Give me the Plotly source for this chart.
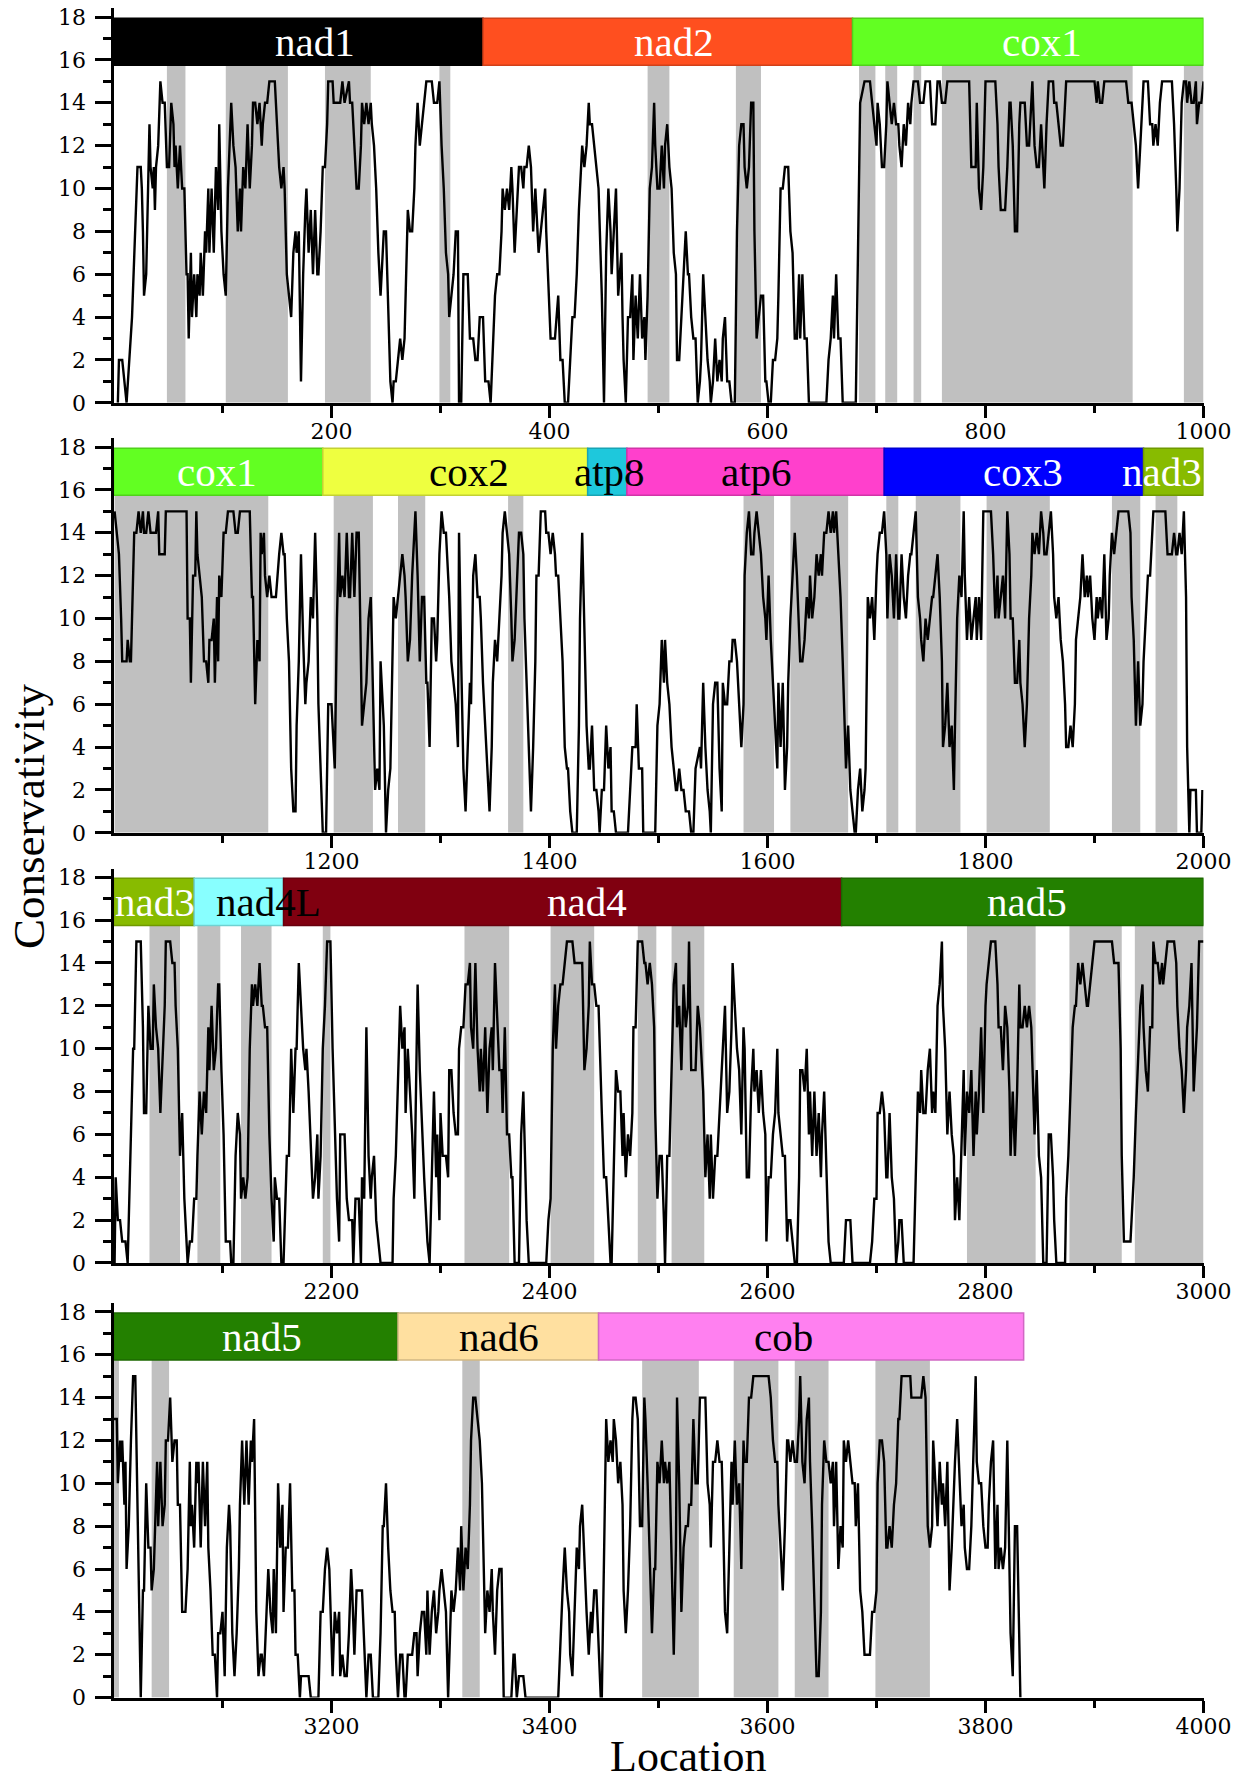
import plotly.graph_objects as go

FONT = "Liberation Serif"
TICK_FONT = "DejaVu Serif"

# ---------------- data ----------------
panel_starts = [0, 1000, 2000, 3000]
y_tick_values = [0, 2, 4, 6, 8, 10, 12, 14, 16, 18]

gene_names = ["nad1", "nad2", "cox1", "cox2", "atp8", "atp6", "cox3", "nad3",
              "nad4L", "nad4", "nad5", "nad6", "cob"]
gene_starts = [0, 339, 678, 1192, 1435, 1471, 1707, 1945, 2074, 2156, 2668, 3261, 3445]
gene_ends = [339, 678, 1192, 1435, 1471, 1707, 1945, 2074, 2156, 2668, 3261, 3445, 3835]
gene_colors = ["#000000", "#FF4F1F", "#62FF22", "#EEFF40", "#1EC8DC", "#FF40CC",
               "#0000FF", "#88BB00", "#88FFFF", "#800010", "#238000", "#FFE0A0", "#FF80F0"]
gene_text_colors = ["white", "white", "white", "black", "black", "black",
                    "white", "white", "black", "white", "white", "black", "black"]

label_genes = ["nad1", "nad2", "cox1", "cox1", "cox2", "atp8", "atp6", "cox3", "nad3",
               "nad3", "nad4L", "nad4", "nad5", "nad5", "nad6", "cob"]
label_x = [185, 514, 852, 1095, 1326, 1455, 1590, 1834, 1962,
           2038, 2142, 2434, 2838, 3136, 3354, 3615]

shaded_starts = [49, 103, 194, 299, 490, 571, 684, 708, 734, 760, 982,
                 1001, 1202, 1261, 1362, 1578, 1621, 1709, 1736, 1801, 1916, 1956,
                 2033, 2077, 2117, 2192, 2322, 2401, 2481, 2512, 2783, 2877, 2937,
                 3000, 3035, 3320, 3485, 3569, 3625, 3699]
shaded_ends = [66, 160, 236, 309, 510, 594, 699, 719, 741, 935, 1000,
               1142, 1238, 1286, 1376, 1606, 1674, 1720, 1777, 1859, 1942, 1976,
               2061, 2098, 2145, 2199, 2363, 2441, 2498, 2542, 2846, 2925, 3000,
               3005, 3051, 3336, 3537, 3610, 3656, 3749]

panel1_points = [
    (4,0),(5,2),(8,2),(12,0),(17,4),(21,10),(22,11),(25,11),(26,10),(27,8),(28,5),(30,6),(33,13),(34,11),
    (36,10),(37,11),(38,9),(39,11),(41,12),(43,15),(45,14),(47,14),(48,12),(49,11),(51,11),(53,14),(55,13),
    (56,11),(57,12),(59,10),(61,12),(63,10),(65,10),(67,6),(68,6),(69,3),(71,7),(72,4),(74,6),(76,4),(77,6),
    (79,5),(80,7),(82,5),(84,8),(85,7),(87,10),(88,7),(90,10),(92,7),(94,11),(96,9),(97,13),(99,8),(101,6),
    (103,5),(105,10),(107,13),(108,14),(110,12),(112,11),(114,8),(116,10),(117,8),(119,11),(121,10),(123,13),
    (125,10),(127,12),(128,14),(130,14),(132,13),(134,14),(136,12),(137,13),(139,14),(141,14),(143,15),(148,15),
    (150,13),(152,11),(154,10),(156,11),(157,10),(159,6),(161,5),(163,4),(165,7),(167,8),(168,7),(170,8),(172,1),
    (174,6),(176,9),(177,10),(179,7),(181,9),(183,6),(185,9),(187,6),(188,6),(190,8),(192,11),(194,11),(196,13),
    (197,15),(201,15),(202,14),(208,14),(210,15),(212,14),(216,15),(217,14),(219,14),(221,12),(223,10),(225,10),
    (227,12),(228,14),(230,13),(232,14),(234,13),(236,14),(237,13),(239,12),(241,10),(243,7),(245,5),(247,7),
    (248,8),(250,8),(252,4),(254,1),(256,0),(257,1),(259,1),(261,2),(263,3),(265,2),(267,3),(268,5),(270,9),
    (272,8),(274,8),(276,10),(277,12),(279,14),(281,12),(283,13),(285,14),(287,15),(292,15),(294,14),(297,14),
    (299,15),(301,12),(303,10),(305,7),(307,6),(308,4),(310,5),(312,6),(314,8),(316,8),(317,0),(319,0),(321,6),
    (325,6),(327,3),(330,3),(332,2),(334,2),(336,4),(339,4),(341,1),(344,1),(346,0),(348,3),(350,5),(352,6),
    (354,6),(356,8),(357,10),(359,9),(361,10),(363,9),(365,11),(366,10),(368,7),(370,9),(372,11),(374,11),
    (376,10),(377,11),(379,11),(381,12),(383,11),(385,8),(387,10),(388,9),(390,7),(392,8),(394,9),(396,10),
    (397,8),(399,5),(401,3),(405,3),(408,5),(410,2),(412,2),(414,0),(417,0),(419,2),(421,4),(423,4),(425,6),
    (427,9),(428,10),(430,12),(432,11),(434,12),(436,14),(437,13),(439,13),(441,12),(443,11),(445,10),(448,5),
    (450,0),(452,7),(454,10),(456,8),(457,6),(459,8),(461,10),(463,5),(466,7),
    (467,4),(468,2),(470,0),(472,4),(474,4),(476,6),(477,2),(479,5),(481,3),(483,6),(485,3),(487,4),(488,2),
    (490,5),(492,10),(494,11),(496,14),(497,12),(499,10),(501,10),(503,12),(505,10),(506,12),(508,13),(510,11),
    (512,10),(514,7),(516,6),(517,2),(519,2),(521,4),(523,6),(525,8),(527,6),(528,6),(530,4),(532,3),(534,3),
    (536,0),(538,1),(539,2),(541,6),(543,4),(545,2),(547,1),(548,0),(550,1),(552,3),(554,1),(556,2),(558,1),
    (559,3),(561,4),(563,1),(565,1),(567,0),(570,0),(572,8),(574,12),(576,13),(578,13),(579,11),(581,10),
    (583,11),(585,14),(587,14),(588,8),(590,3),(592,4),(594,5),(596,5),(598,1),(599,1),(601,0),(603,0),(605,2),
    (607,2),(609,3),(610,5),(612,10),(614,10),(616,11),(619,11),(621,8),(623,7),(625,3),(627,3),(629,6),(630,3),
    (632,6),(634,3),(636,3),(638,0),(654,0),(656,2),(658,3),(660,5),(661,3),(663,6),(665,3),(667,3),(669,0),
    (681,0),(685,14),(689,15),(694,15),(696,14),(698,13),(700,12),(701,14),(703,13),(705,11),(707,11),(709,13),
    (710,15),(712,14),(714,13),(716,14),(718,13),(720,13),(721,12),(723,11),(725,13),(727,12),(729,14),(731,13),
    (732,14),(734,15),(738,15),(740,14),(743,14),(745,15),(749,15),(751,13),(754,13),(756,15),(758,15),(760,14),
    (763,14),(765,15),(785,15),(787,11),(791,11),(792,14),(794,10),(796,9),(798,11),(800,15),(809,15),(811,13),
    (812,11),(814,9),(818,9),(820,11),(822,14),(823,14),(825,12),(827,8),(829,8),(831,13),(832,14),(836,14),
    (838,12),(840,12),(842,14),(843,15),(845,12),(847,11),(849,11),(851,13),(853,11),(854,10),(856,13),(858,15),
    (862,15),(863,14),(865,14),(867,13),(869,12),(871,12),(873,14),(874,15),(900,15),(902,14),(903,15),(905,14),
    (907,14),(909,15),(929,15),(931,14),(934,14),(936,13),(938,12),(940,10),(942,12),(944,14),(945,15),(949,15),
    (951,13),(953,13),(954,12),(956,13),(958,12),(960,14),(962,15),(971,15),(973,13),(975,10),(976,8),(978,10),
    (980,14),(982,15),(984,15),(985,14),(987,15),(989,14),(991,14),(993,15),(994,13),(996,14),(998,14),(1000,15),
]

panel2_points = [
    (1001,15),(1003,14),(1005,13),(1007,10),(1008,8),(1012,8),(1013,9),(1015,8),(1016,8),(1019,14),(1021,14),
    (1023,15),(1025,14),(1027,15),(1028,14),(1030,14),(1032,15),(1034,14),(1036,14),(1039,14),(1041,15),(1042,13),
    (1047,13),(1048,15),(1067,15),(1068,10),(1070,10),(1071,7),(1073,12),(1075,12),(1076,15),(1077,13),(1079,12),
    (1081,11),(1083,8),(1085,8),(1087,7),(1088,9),(1090,9),(1092,10),(1093,7),(1095,11),(1096,8),(1097,12),
    (1099,11),(1101,14),(1103,14),(1105,15),(1110,15),(1112,14),(1114,14),(1116,15),(1125,15),(1127,11),(1128,11),
    (1130,6),(1132,9),(1134,8),(1135,14),(1136,13),(1138,14),(1139,12),(1141,11),(1143,12),(1145,11),(1147,11),
    (1149,11),(1152,13),(1154,14),(1156,13),(1157,13),(1159,10),(1161,8),(1163,3),(1165,1),(1167,1),(1168,5),
    (1170,8),(1172,13),(1174,9),(1176,6),(1177,7),(1179,8),(1181,11),(1183,10),(1185,14),(1187,10),(1188,6),
    (1190,3),(1192,0),(1195,0),(1197,6),(1200,6),(1203,3),(1205,10),(1207,14),(1208,11),(1210,12),(1212,11),
    (1214,14),(1216,11),(1217,11),(1219,14),(1221,11),(1223,14),(1225,14),(1227,8),(1228,5),(1230,6),(1232,7),
    (1234,10),(1236,11),(1237,9),(1239,5),(1240,2),(1242,3),(1244,2),(1245,8),(1247,6),(1248,5),(1250,0),
    (1252,2),(1254,3),(1256,8),(1257,11),(1259,10),(1261,11),(1263,12),(1265,13),(1267,12),(1268,11),(1270,8),
    (1272,9),(1274,12),(1276,14),(1277,15),(1279,12),(1281,8),(1283,11),(1285,11),(1287,7),(1288,7),(1290,4),
    (1292,10),(1294,10),(1296,8),(1297,9),(1299,13),(1301,15),(1303,14),(1305,14),(1307,12),(1308,11),(1310,8),
    (1312,7),(1314,6),(1316,4),(1317,14),(1319,8),(1321,3),(1323,1),(1325,4),(1327,7),(1328,6),(1330,12),
    (1332,13),(1334,11),(1336,11),(1337,10),(1339,7),(1341,5),(1343,3),(1345,1),(1347,4),(1348,7),(1350,9),
    (1352,8),(1354,10),(1356,12),(1357,14),(1359,15),(1361,14),(1363,13),(1365,10),(1366,8),(1368,9),(1370,12),
    (1372,14),(1374,14),(1376,13),(1377,10),(1379,7),(1381,3),(1383,1),(1385,4),(1387,8),(1388,12),(1390,12),
    (1392,15),(1396,15),(1397,14),(1399,14),(1401,13),(1403,14),(1405,13),(1406,12),(1408,12),(1410,10),(1412,8),
    (1414,4),(1416,3),(1417,3),(1419,1),(1421,0),(1425,0),(1427,5),(1428,10),(1430,14),(1432,10),(1434,5),
    (1436,3),(1437,3),(1439,5),(1441,2),(1443,2),(1445,1),(1446,0),(1448,2),(1450,2),(1452,5),(1454,3),(1456,4),
    (1457,1),(1459,1),(1461,0),(1472,0),(1476,4),(1479,4),(1480,6),(1482,3),(1485,3),(1486,0),(1497,0),(1499,5),
    (1501,6),(1503,9),(1505,7),(1506,9),(1508,7),(1510,6),(1512,4),(1516,2),(1517,2),(1519,3),(1521,2),(1523,2),
    (1525,1),(1528,1),(1530,0),(1532,0),(1534,3),(1538,4),(1539,3),(1541,7),(1543,4),(1545,2),(1547,1),(1548,0),
    (1550,6),(1552,7),(1554,7),(1556,3),(1558,1),(1559,7),(1561,6),(1563,6),(1565,8),(1567,8),(1568,9),(1570,9),
    (1572,8),(1574,6),(1576,4),(1578,6),(1579,12),(1581,14),(1583,15),(1585,13),(1587,13),(1588,14),(1590,15),
    (1592,14),(1594,13),(1596,11),(1598,10),(1599,9),(1601,12),(1603,9),(1605,7),(1607,5),(1609,3),(1610,7),
    (1612,4),(1614,7),(1616,2),(1618,4),(1619,7),(1621,10),(1623,12),(1625,14),(1627,12),(1629,9),(1630,8),
    (1632,8),(1634,9),(1636,11),(1638,10),(1639,12),(1641,10),(1643,11),(1645,13),(1647,12),(1649,13),(1650,12),
    (1652,14),(1654,14),(1656,15),(1658,14),(1660,15),(1661,14),(1663,15),(1665,13),(1667,11),(1669,8),(1670,6),
    (1672,3),(1674,5),(1676,2),(1678,1),(1680,0),(1681,0),(1683,2),(1685,3),(1687,1),(1689,2),(1690,3),(1692,11),
    (1694,10),(1696,11),(1698,9),(1700,12),(1701,13),(1703,14),(1705,14),(1707,15),(1709,13),(1710,10),(1712,13),
    (1714,12),(1716,10),(1718,13),(1720,10),(1721,10),(1723,13),(1725,11),(1727,10),(1729,12),(1731,13),(1732,13),
    (1734,14),(1736,15),(1738,11),(1740,10),(1741,9),(1743,8),(1745,10),(1747,9),(1749,10),(1751,11),(1752,11),
    (1754,12),(1756,13),(1758,11),(1760,8),(1761,4),(1763,5),(1765,7),(1767,4),(1769,5),(1771,2),(1772,5),
    (1774,10),(1776,12),(1778,11),(1780,15),(1781,12),(1783,9),(1785,11),(1787,9),(1789,10),(1791,11),(1792,9),
    (1794,11),(1796,9),(1798,15),(1805,15),(1807,13),(1809,10),(1811,12),(1812,10),(1814,11),(1816,12),(1818,10),
    (1820,15),(1822,13),(1823,10),(1825,10),(1827,7),(1829,7),(1831,9),(1832,7),(1834,6),(1836,4),(1838,6),
    (1840,10),(1842,12),(1843,14),(1845,13),(1847,14),(1849,13),(1851,15),(1853,14),(1854,13),(1856,13),(1858,14),
    (1860,15),(1862,13),(1863,11),(1865,10),(1867,11),(1869,9),(1871,8),(1873,6),(1874,4),(1876,4),(1878,5),
    (1880,4),(1882,6),(1883,9),(1885,10),(1887,11),(1889,13),(1891,11),(1893,12),(1894,11),(1896,12),(1898,10),
    (1900,9),(1902,11),(1903,10),(1905,11),(1907,10),(1909,13),(1911,9),(1913,10),(1914,12),(1916,14),(1918,13),
    (1920,14),(1922,15),(1931,15),(1933,14),(1934,11),(1936,9),(1938,5),(1940,8),(1942,5),(1944,6),(1945,8),
    (1947,10),(1949,12),(1951,12),(1953,14),(1954,15),(1965,15),(1967,13),(1971,13),(1973,14),(1975,13),(1976,13),
    (1978,14),(1980,13),(1982,15),(1984,11),(1985,4),(1987,0),(1988,2),(1993,2),(1994,0),(1998,0),(1999,2),
]

panel3_points = [
    (2001,0),(2002,4),(2004,2),(2006,2),(2008,1),(2011,1),(2013,0),(2016,6),(2018,10),(2019,10),(2021,15),
    (2025,15),(2027,11),(2028,7),(2030,7),(2032,12),(2034,10),(2036,10),(2037,13),(2039,11),(2041,10),(2043,7),
    (2045,10),(2047,12),(2048,15),(2052,15),(2054,14),(2056,14),(2057,12),(2059,10),(2061,5),(2063,7),(2065,3),
    (2067,1),(2068,0),(2070,1),(2072,1),(2074,3),(2076,3),(2077,5),(2079,8),(2081,6),(2083,8),(2085,7),(2087,11),
    (2088,9),(2090,12),(2092,9),(2094,10),(2096,13),(2097,13),(2099,9),(2101,6),(2103,1),(2107,1),(2108,0),
    (2110,0),(2112,5),(2114,7),(2116,6),(2117,3),(2119,4),(2121,3),(2123,4),(2125,10),(2127,13),(2128,12),
    (2130,13),(2132,12),(2134,14),(2136,12),(2137,12),(2139,11),(2141,11),(2143,6),(2145,3),(2147,1),(2148,4),
    (2150,3),(2152,3),(2154,0),(2156,0),(2159,5),(2161,5),(2163,10),(2165,7),(2167,10),(2168,10),(2170,14),
    (2172,12),(2174,10),(2176,9),(2177,10),(2179,8),(2181,5),(2183,3),(2185,4),(2187,6),(2188,3),(2190,5),
    (2192,10),(2194,12),(2196,15),(2199,15),(2201,10),(2203,6),(2205,3),(2207,1),(2208,6),(2212,6),(2214,3),
    (2216,2),(2219,2),(2220,0),(2222,3),(2225,3),(2227,0),(2228,4),(2230,3),(2232,11),(2234,5),(2236,3),(2237,4),
    (2239,5),(2241,2),(2243,1),(2245,0),(2256,0),(2257,3),(2259,5),(2261,9),(2263,12),(2265,10),(2267,11),
    (2268,7),(2270,10),(2272,8),(2274,6),(2276,3),(2277,7),(2279,13),(2281,9),(2283,6),(2285,4),(2287,2),
    (2288,1),(2290,0),(2292,4),(2294,8),(2296,4),(2297,6),(2299,2),(2300,7),(2302,5),(2305,5),(2307,4),(2308,9),
    (2310,9),(2312,7),(2314,6),(2316,6),(2317,10),(2319,11),(2321,11),(2323,13),(2325,13),(2327,14),(2328,11),
    (2330,10),(2332,14),(2334,10),(2336,8),(2337,10),(2339,8),(2341,11),(2343,7),(2345,10),(2347,11),(2348,9),
    (2350,14),(2352,11),(2354,9),(2356,9),(2357,7),(2359,11),(2361,6),(2363,6),(2365,4),(2366,4),(2368,0),
    (2372,0),(2374,6),(2376,8),(2377,6),(2379,2),(2381,0),(2397,0),(2399,2),(2401,3),(2403,10),(2405,13),
    (2406,10),(2408,12),(2410,13),(2412,13),(2414,14),(2416,15),(2421,15),(2423,14),(2430,14),(2432,9),(2434,10),
    (2436,12),(2437,15),(2439,13),(2441,13),(2443,12),(2445,12),(2446,10),(2448,7),(2450,4),(2452,4),(2454,2),
    (2456,0),(2457,0),(2459,4),(2461,9),(2463,8),(2465,8),(2467,5),(2468,7),(2470,4),(2472,6),(2474,5),(2476,7),
    (2477,11),(2479,11),(2481,15),(2485,15),(2487,14),(2488,14),(2490,13),(2492,14),(2494,13),(2496,11),(2497,7),
    (2499,3),(2501,5),(2503,5),(2505,2),(2506,0),(2508,5),(2510,5),(2512,9),(2514,13),(2516,14),(2517,11),
    (2519,12),(2521,9),(2523,13),(2525,11),(2527,12),(2528,15),(2530,9),(2532,9),(2534,9),(2536,12),(2538,11),
    (2539,10),(2541,8),(2543,4),(2545,6),(2547,3),(2548,6),(2550,3),(2552,5),(2554,5),(2556,7),(2558,9),
    (2559,10),(2561,12),(2563,7),(2565,8),(2567,11),(2568,14),(2570,12),(2572,10),(2574,9),(2576,6),(2578,11),
    (2579,10),(2581,4),(2583,4),(2585,8),(2587,10),(2588,8),(2590,9),(2592,7),(2594,9),(2596,7),(2598,6),
    (2599,1),(2601,4),(2603,4),(2605,6),(2607,7),(2609,10),(2610,7),(2612,6),(2614,5),(2616,5),(2618,1),
    (2619,2),(2621,2),(2623,1),(2625,0),(2627,0),(2629,4),(2630,9),(2632,9),(2634,8),(2636,10),(2638,6),
    (2639,8),(2641,5),(2643,8),(2645,5),(2647,7),(2649,4),(2650,6),(2652,8),(2654,4),(2656,1),(2658,0),
    (2670,0),(2672,2),(2676,2),(2678,0),(2694,0),(2696,1),(2698,3),(2700,3),(2701,7),(2703,7),(2705,8),
    (2707,7),(2709,4),(2710,4),(2712,7),(2714,4),(2716,3),(2718,0),(2720,1),(2721,2),(2723,2),(2725,0),
    (2734,0),(2736,4),(2738,8),(2740,7),(2741,9),(2743,7),(2745,7),(2747,9),(2749,10),(2751,7),(2752,8),
    (2754,7),(2756,12),(2758,13),(2760,15),(2761,12),(2763,10),(2765,6),(2767,8),(2769,6),(2771,5),(2772,2),
    (2774,4),(2776,2),(2778,6),(2780,9),(2781,5),(2783,8),(2785,7),(2787,9),(2789,5),(2791,8),(2792,6),
    (2794,8),(2796,11),(2798,7),(2800,12),(2801,13),(2803,14),(2805,15),(2809,15),(2811,13),(2812,11),(2814,11),
    (2816,9),(2818,12),(2820,11),(2822,8),(2823,5),(2825,8),(2827,5),(2829,8),(2831,13),(2832,11),(2834,11),
    (2836,12),(2838,11),(2840,12),(2842,11),(2843,9),(2845,6),(2847,9),(2849,5),(2851,4),(2853,0),(2856,0),
    (2858,6),(2860,6),(2862,4),(2863,2),(2865,0),(2873,0),(2874,3),(2876,5),(2878,8),(2880,11),(2882,12),
    (2883,12),(2885,14),(2887,13),(2889,14),(2891,13),(2893,12),(2894,12),(2896,13),(2898,14),(2900,15),
    (2916,15),(2918,14),(2922,14),(2924,10),(2925,5),(2927,1),(2933,1),(2934,2),(2936,4),(2938,7),(2940,10),
    (2942,12),(2944,13),(2945,11),(2947,9),(2949,8),(2951,11),(2953,11),(2954,15),(2956,14),(2958,14),(2960,13),
    (2962,14),(2963,13),(2965,14),(2967,15),(2973,15),(2975,14),(2976,12),(2978,10),(2980,9),(2982,7),(2984,9),
    (2985,11),(2987,12),(2989,14),(2991,8),(2993,10),(2994,11),(2996,15),(3000,15),
]

panel4_points = [
    (3000,13),(3003,13),(3004,10),(3006,12),(3007,11),(3008,12),(3010,9),(3011,11),(3012,6),(3014,8),(3016,12),
    (3018,15),(3020,15),(3021,12),(3023,5),(3025,0),(3027,5),(3028,5),(3030,10),(3032,7),(3034,7),(3035,5),
    (3037,6),(3038,8),(3040,11),(3041,8),(3043,11),(3045,8),(3047,9),(3048,12),(3050,12),(3052,14),(3054,11),
    (3056,12),(3058,12),(3059,9),(3061,9),(3063,4),(3066,4),(3068,6),(3070,11),(3071,8),(3072,9),(3074,7),
    (3076,11),(3077,10),(3078,11),(3080,7),(3082,11),(3084,8),(3086,11),(3087,7),(3089,5),(3091,2),(3093,2),
    (3095,0),(3096,3),(3098,3),(3100,4),(3102,1),(3104,7),(3106,9),(3107,8),(3109,3),(3111,1),(3113,3),(3115,6),
    (3116,9),(3118,12),(3120,9),(3122,12),(3124,9),(3126,12),(3127,11),(3129,13),(3131,4),(3133,1),(3135,2),
    (3136,2),(3138,1),(3140,4),(3142,6),(3144,4),(3146,3),(3147,6),(3149,3),(3151,10),(3153,7),(3155,9),(3156,4),
    (3158,7),(3160,7),(3162,10),(3164,5),(3166,5),(3167,2),(3169,2),(3171,0),(3172,1),(3179,1),(3181,0),(3188,0),
    (3190,4),(3192,4),(3194,6),(3196,7),(3198,6),(3199,4),(3201,1),(3203,4),(3205,3),(3207,4),(3208,1),(3210,2),
    (3212,1),(3214,1),(3216,3),(3218,6),(3219,5),(3221,2),(3223,5),(3228,5),(3230,2),(3232,0),(3234,2),(3236,2),
    (3238,0),(3243,0),(3245,3),(3247,8),(3248,8),(3250,10),(3252,7),(3254,5),(3256,4),(3258,4),(3259,2),(3261,0),
    (3263,2),(3265,2),(3267,0),(3268,0),(3270,2),(3274,2),(3276,3),(3278,3),(3279,1),(3281,3),(3283,4),(3285,4),
    (3287,2),(3288,5),(3290,2),(3292,4),(3294,5),(3296,3),(3298,4),(3299,5),(3301,6),(3303,5),(3305,4),(3307,0),
    (3308,2),(3310,5),(3312,4),(3314,5),(3316,7),(3318,5),(3319,8),(3321,5),(3323,7),(3325,6),(3327,9),(3328,12),
    (3330,14),(3332,14),(3334,13),(3336,12),(3338,10),(3339,7),(3341,3),(3343,5),(3345,4),(3347,6),(3348,4),
    (3350,2),(3352,5),(3354,6),(3356,6),(3358,0),(3365,0),(3367,2),(3368,2),(3370,0),(3372,1),(3376,1),(3378,0),
    (3408,0),(3410,3),(3412,5),(3414,7),(3416,5),(3418,4),(3419,2),(3421,1),(3423,4),(3425,7),(3427,6),(3428,8),
    (3430,9),(3432,6),(3434,4),(3436,2),(3438,4),(3439,3),(3441,5),(3443,5),(3445,2),(3447,0),(3448,0),(3450,6),
    (3452,13),(3454,11),(3456,12),(3458,11),(3459,13),(3461,12),(3463,10),(3465,11),(3467,9),(3468,5),(3470,3),
    (3472,5),(3474,8),(3476,13),(3477,14),(3479,14),(3481,13),(3483,8),(3485,8),(3487,14),(3488,13),(3490,10),
    (3492,6),(3494,3),(3496,6),(3497,6),(3499,11),(3501,10),(3503,12),(3505,10),(3506,11),(3508,10),(3510,11),
    (3512,7),(3514,2),(3516,7),(3517,14),(3519,10),(3521,4),(3523,7),(3525,8),(3527,8),(3528,9),(3530,9),
    (3532,13),(3534,10),(3536,10),(3538,14),(3539,14),(3543,14),(3545,10),(3547,9),(3548,7),(3550,11),(3552,11),
    (3554,12),(3556,11),(3558,11),(3559,9),(3561,4),(3563,3),(3565,7),(3567,11),(3568,9),(3570,12),(3572,9),
    (3574,10),(3576,6),(3578,12),(3579,11),(3581,11),(3583,14),(3585,14),(3587,15),(3601,15),(3603,14),(3605,12),
    (3607,11),(3609,11),(3610,9),(3612,7),(3614,5),(3616,8),(3618,12),(3619,12),(3621,11),(3623,12),(3625,11),
    (3627,11),(3629,13),(3630,15),(3632,11),(3634,10),(3636,13),(3638,14),(3639,11),(3641,8),(3643,4),(3645,1),
    (3647,1),(3649,4),(3650,9),(3652,12),(3654,11),(3656,11),(3658,10),(3660,11),(3661,8),(3663,11),(3665,6),
    (3667,8),(3669,7),(3670,12),(3672,11),(3674,12),(3676,11),(3678,10),(3680,10),(3681,8),(3683,10),(3685,5),
    (3687,4),(3689,2),(3692,2),(3694,2),(3696,4),(3698,4),(3700,5),(3701,10),(3703,12),(3705,12),(3707,11),
    (3709,7),(3710,7),(3712,8),(3714,7),(3716,9),(3718,10),(3720,13),(3721,13),(3723,15),(3731,15),(3732,14),
    (3741,14),(3743,15),(3745,14),(3747,8),(3749,7),(3751,8),(3752,12),(3754,10),(3756,8),(3758,11),(3760,9),
    (3761,10),(3763,8),(3765,11),(3767,5),(3769,7),(3771,10),(3772,11),(3774,13),(3776,10),(3778,8),(3780,9),
    (3781,7),(3783,6),(3785,6),(3787,8),(3789,12),(3791,15),(3792,11),(3794,10),(3796,10),(3798,8),(3800,7),
    (3802,7),(3803,9),(3805,11),(3807,12),(3809,6),(3811,9),(3812,6),(3814,7),(3816,6),(3818,7),(3820,12),
    (3822,6),(3823,3),(3825,1),(3827,8),(3829,8),(3831,3),(3832,0),
]

# ---------------- layout geometry ----------------
W, H = 1242, 1784
X_LEFT, X_RIGHT = 113.5, 1203.5
PANEL_ZERO_PX = [402.8, 832.8, 1263.0, 1697.6]
PX_PER_UNIT = 21.43
Y_MAX = 18.4
BAR_LOW, BAR_HIGH = 15.75, 17.95
LABEL_Y = 16.85

panel_points = [panel1_points, panel2_points, panel3_points, panel4_points]


def darker(hexcol, f=0.82):
    h = hexcol.lstrip("#")
    r, g, b = int(h[0:2], 16), int(h[2:4], 16), int(h[4:6], 16)
    return "#%02x%02x%02x" % (int(r * f), int(g * f), int(b * f))


fig = go.Figure()
layout = dict(
    width=W, height=H, autosize=False,
    margin=dict(l=0, r=0, t=0, b=0, pad=0, autoexpand=False),
    paper_bgcolor="white", plot_bgcolor="white",
    showlegend=False,
    font=dict(family=FONT, color="black", size=22),
)
shapes = []
annotations = []

for k, start in enumerate(panel_starts):
    sfx = "" if k == 0 else str(k + 1)
    xref, yref = "x" + sfx, "y" + sfx
    xs = [p[0] for p in panel_points[k]]
    ys = [p[1] for p in panel_points[k]]
    fig.add_trace(go.Scatter(x=xs, y=ys, mode="lines", xaxis=xref, yaxis=yref,
                             line=dict(color="black", width=2.4), hoverinfo="skip"))

    y0px = PANEL_ZERO_PX[k]
    ytop_px = y0px - Y_MAX * PX_PER_UNIT
    ydom = [1 - y0px / H, 1 - ytop_px / H]
    xdom = [X_LEFT / W, X_RIGHT / W]

    layout["xaxis" + sfx] = dict(
        domain=xdom, anchor=yref, range=[start, start + 1000], automargin=False,
        showline=True, linecolor="black", linewidth=3,
        showgrid=False, zeroline=False,
        ticks="outside", ticklen=12, tickwidth=2.5, tickcolor="black",
        tickvals=[start + 200 * i for i in range(1, 6)],
        ticktext=[str(start + 200 * i) for i in range(1, 6)],
        tickfont=dict(family=TICK_FONT, size=22, color="black"),
        ticklabelstandoff=-5,
        minor=dict(tickvals=[start + 100, start + 300, start + 500, start + 700, start + 900],
                   ticks="outside", ticklen=7, tickwidth=2.5, tickcolor="black", showgrid=False),
        fixedrange=True,
    )
    layout["yaxis" + sfx] = dict(
        domain=ydom, anchor=xref, range=[0, Y_MAX], automargin=False,
        showline=True, linecolor="black", linewidth=3,
        showgrid=False, zeroline=False,
        ticks="outside", ticklen=16, tickwidth=2.5, tickcolor="black",
        tickvals=y_tick_values,
        tickfont=dict(family=TICK_FONT, size=22, color="black"),
        ticklabelstandoff=4,
        minor=dict(tickvals=[v for v in range(1, 18, 2)], ticks="outside", ticklen=8,
                   tickwidth=2.5, tickcolor="black", showgrid=False),
        fixedrange=True,
    )

    # shaded conserved regions
    for s, e in zip(shaded_starts, shaded_ends):
        s2, e2 = max(s, start), min(e, start + 1000)
        if e2 > s2:
            shapes.append(dict(type="rect", xref=xref, yref=yref, x0=s2, x1=e2,
                               y0=0, y1=BAR_LOW, fillcolor="#C0C0C0",
                               line=dict(width=0), layer="below"))
    # gene bars
    for name, gs, ge, col in zip(gene_names, gene_starts, gene_ends, gene_colors):
        s2, e2 = max(gs, start), min(ge, start + 1000)
        if e2 > s2:
            shapes.append(dict(type="rect", xref=xref, yref=yref, x0=s2, x1=e2,
                               y0=BAR_LOW, y1=BAR_HIGH, fillcolor=col,
                               line=dict(width=1.5, color=darker(col)), layer="below"))
    # gene labels
    for name, lx in zip(label_genes, label_x):
        if start <= lx < start + 1000:
            tcol = gene_text_colors[gene_names.index(name)]
            annotations.append(dict(x=lx, y=LABEL_Y, xref=xref, yref=yref, text=name,
                                    showarrow=False, xanchor="center", yanchor="middle",
                                    font=dict(family=FONT, size=41, color=tcol)))

annotations.append(dict(x=688 / W, y=1 - 1756 / H, xref="paper", yref="paper",
                        text="Location", showarrow=False, xanchor="center", yanchor="middle",
                        font=dict(family=FONT, size=44, color="black")))
annotations.append(dict(x=29 / W, y=1 - 817 / H, xref="paper", yref="paper",
                        text="Conservativity", showarrow=False, textangle=-90,
                        xanchor="center", yanchor="middle",
                        font=dict(family=FONT, size=45, color="black")))

layout["shapes"] = shapes
layout["annotations"] = annotations
fig.update_layout(**layout)
fig.write_html(
    "out.html",
    config={"displayModeBar": False, "responsive": False},
    post_script="document.documentElement.style.margin='0px';"
                "document.body.style.margin='0px';document.body.style.padding='0px';"
                "document.documentElement.style.overflow='hidden';",
)
